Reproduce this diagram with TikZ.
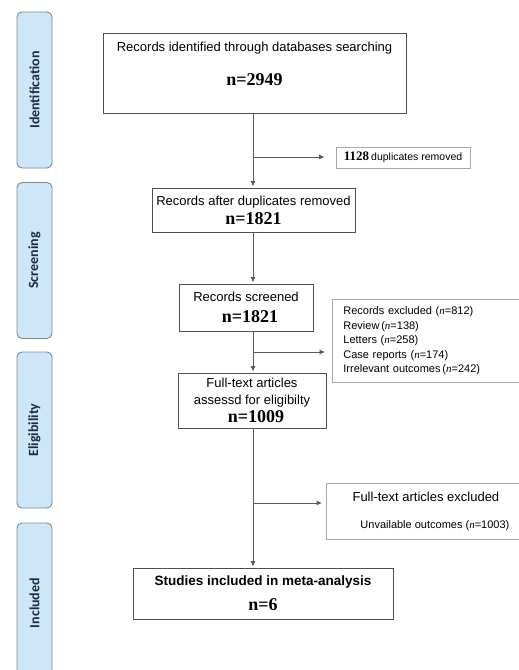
\documentclass[tikz,border=0pt]{standalone}
\usepackage{fontspec}
\setmainfont{Liberation Serif}
\setsansfont{Liberation Sans}
\newfontfamily\tabfont{Carlito}
\usepackage{xcolor}
\usetikzlibrary{arrows.meta}
\definecolor{tabblue}{HTML}{CDE7F8}
\definecolor{tabline}{HTML}{7D8A94}
\definecolor{tabtext}{HTML}{1E2B3A}
\definecolor{boxline}{HTML}{505050}
\definecolor{exline}{HTML}{A8A8A8}
\definecolor{arrline}{HTML}{5A5A5A}
\newcommand{\nval}[1]{{\rmfamily\bfseries\fontsize{18}{20}\selectfont n=#1}}
\newcommand{\nit}{{\rmfamily\itshape n}}

\begin{document}
\begin{tikzpicture}[x=1pt,y=-1pt,
    every node/.style={font=\sffamily\fontsize{13}{15}\selectfont,inner sep=0pt},
    tab/.style={draw=tabline,fill=tabblue,line width=0.9pt,rounded corners=5pt,rotate=90,
      minimum width=156pt,minimum height=35pt,text=tabtext,font=\tabfont\bfseries\fontsize{14}{16}\selectfont},
    box/.style={draw=boxline,line width=0.9pt,align=center},
    exbox/.style={draw=exline,line width=0.8pt},
    arr/.style={draw=arrline,line width=0.8pt,-{Latex[length=5.5pt,width=5pt]}}]
  \useasboundingbox (0,0) rectangle (519,670);
  % phase tabs
  \node[tab] (idf) at (34.5,90) {Identification};
  \node[tab] (scr) at (34.5,260.5) {Screening};
  \node[tab] (elg) at (34.5,430) {Eligibility};
  \node[tab,minimum width=160pt] (inc) at (34.5,603) {Included};
  % main boxes
  \node[box,minimum width=303pt,minimum height=80pt] (b1) at (254.5,73)
    {Records identified through databases searching\\[19pt]\nval{2949}\rule[-18pt]{0pt}{18pt}};
  \node[box,minimum width=203pt,minimum height=44pt] (b2) at (253.5,210)
    {Records after duplicates removed\\[4pt]\nval{1821}};
  \node[box,minimum width=134pt,minimum height=47pt] (b3) at (246,307.5)
    {Records screened\\[6pt]\hspace*{8pt}\nval{1821}};
  \node[box,minimum width=148pt,minimum height=55pt] (b4) at (252,400.5)
    {Full-text articles\\[2pt]assessd for eligibilty\\[3pt]\hspace*{8pt}\nval{1009}};
  \node[box,minimum width=260pt,minimum height=51pt] (b5) at (263,593.5)
    {\fontsize{13.5}{15}\selectfont\bfseries Studies included in meta-analysis\\[10pt]\nval{6}};
  % exclusion boxes
  \node[exbox,minimum width=134pt,minimum height=21pt] (dup) at (403,157.5)
    {{\rmfamily\bfseries\fontsize{13}{15}\selectfont 1128}\,{\fontsize{10.5}{12}\selectfont duplicates removed}};
  \node[exbox,anchor=north west,text width=170pt,inner xsep=11pt,minimum height=83pt,align=left,
    font=\sffamily\fontsize{11}{14.5}\selectfont] (ex1) at (332,299)
    {Records excluded (\nit=812)\\Review\,(\nit=138)\\Letters\ (\nit=258)\\Case reports (\nit=174)\\Irrelevant outcomes\,(\nit=242)\\[2pt]};
  \node[exbox,anchor=north west,minimum width=199pt,minimum height=56pt,align=center] (ex2) at (326,483)
    {Full-text articles excluded\\[12pt]\hspace*{18pt}{\fontsize{11}{13}\selectfont Unvailable outcomes (\nit=1003)}};
  % connectors
  \coordinate (spine) at (253,0);
  \coordinate (j1) at (253,157);
  \coordinate (j2) at (253,352);
  \coordinate (j3) at (253,503);
  \draw[arr,shorten >=1pt] (spine |- b1.south) -- (spine |- b2.north);
  \draw[arr,shorten >=1pt] (spine |- b2.south) -- (spine |- b3.north);
  \draw[arr,shorten >=1pt] (spine |- b3.south) -- (spine |- b4.north);
  \draw[arr,shorten >=1pt] (spine |- b4.south) -- (spine |- b5.north);
  \draw[arr,shorten >=11pt] (j1) -- (j1 -| dup.west);
  \draw[arr,shorten >=7pt] (j2) -- (j2 -| ex1.west);
  \draw[arr,shorten >=4pt] (j3) -- (j3 -| ex2.west);
\end{tikzpicture}
\end{document}
